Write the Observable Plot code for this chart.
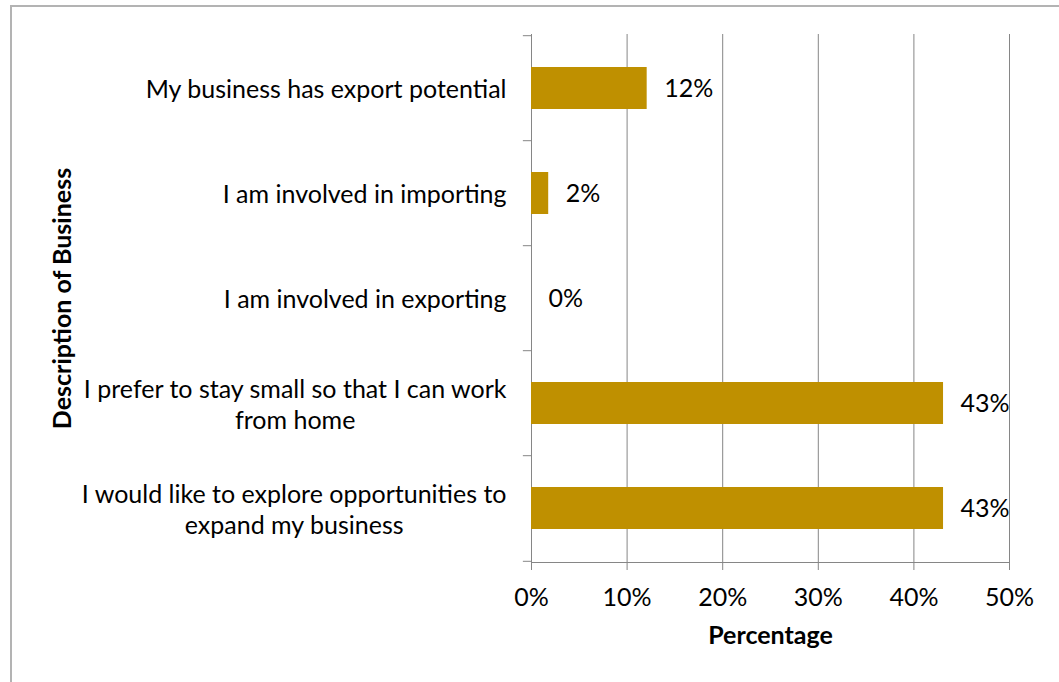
<!DOCTYPE html>
<html><head><meta charset="utf-8">
<script src="https://cdn.jsdelivr.net/npm/d3@7"></script>
<script src="https://cdn.jsdelivr.net/npm/@observablehq/plot@0.6"></script>
<style>
html,body{margin:0;padding:0;background:#fff;overflow:hidden;}
#chart{position:relative;width:1059px;height:682px;overflow:hidden;}
#chart .bt{position:absolute;left:10px;top:5px;width:1049px;height:2px;background:#b3b3b3;}
#chart .bl{position:absolute;left:10px;top:5px;width:2px;height:677px;background:#b3b3b3;}
#chart svg{position:absolute;left:0;top:0;}
</style>
</head><body><div id="chart"><div class="bt"></div><div class="bl"></div></div>
<script>
const categories = [
  "My business has export potential",
  "I am involved in importing",
  "I am involved in exporting",
  "I prefer to stay small so that I can work from home",
  "I would like to explore opportunities to expand my business"
];
const categoryLines = [
  ["My business has export potential"],
  ["I am involved in importing"],
  ["I am involved in exporting"],
  ["I prefer to stay small so that I can work", "from home"],
  ["I would like to explore opportunities to", "expand my business"]
];
const values = [12.1, 1.8, 0, 43.1, 43.1];
const valueLabels = ["12%", "2%", "0%", "43%", "43%"];
const xTicks = [0, 10, 20, 30, 40, 50];
const xTitle = "Percentage";
const yTitle = "Description of Business";

const data = categories.map((c, i) => ({category: c, value: values[i], label: valueLabels[i]}));
const FONT = "Lato, 'Open Sans', sans-serif";
const GRID = "#868686";
const STEP_HALF = 52.8;

const plot = Plot.plot({
  width: 1059, height: 682,
  marginLeft: 531, marginRight: 50, marginTop: 34, marginBottom: 120,
  style: {fontFamily: FONT, fontSize: "25px", color: "#000", background: "transparent", overflow: "hidden"},
  x: {domain: [0, 50]},
  y: {domain: categories, paddingInner: 0.6, paddingOuter: 0.3, label: null},
  marks: [
    Plot.ruleX(xTicks, {stroke: GRID, strokeWidth: 1}),
    Plot.frame({anchor: "bottom", stroke: GRID}),
    Plot.ruleY(categories, {y: d => d, x1: -0.85, x2: 0, dy: -STEP_HALF, stroke: GRID}),
    Plot.ruleY([categories[categories.length - 1]], {y: d => d, x1: -0.85, x2: 0, dy: STEP_HALF, stroke: GRID}),
    Plot.barX(data, {y: "category", x: "value", fill: "#BF9000"}),
    Plot.text(data, {y: "category", x: "value", text: "label", textAnchor: "start", dx: 17, fill: "#000"}),
    Plot.axisX({ticks: xTicks, tickSize: 8, tickPadding: 18, tickFormat: d => d + "%", stroke: GRID, label: null}),
    Plot.axisY({tickSize: 0, tickPadding: 25, label: null, lineHeight: 1.24,
      tickFormat: d => categoryLines[categories.indexOf(d)].join("\n")}),
    Plot.text([xTitle], {frameAnchor: "bottom", dy: 81, fontWeight: "bold", fill: "#000"}),
    Plot.text([yTitle], {frameAnchor: "left", dx: -469, rotate: -90, textAnchor: "middle", fontWeight: "bold", fill: "#000"})
  ]
});
document.getElementById("chart").appendChild(plot);

// Excel-style wrapped labels: block right-aligned, lines centred within the block
d3.select(plot).selectAll("g[aria-label='y-axis tick label'] text").each(function() {
  const tspans = this.querySelectorAll("tspan");
  if (tspans.length < 2) return;
  let maxW = 0;
  tspans.forEach(t => { maxW = Math.max(maxW, t.getComputedTextLength()); });
  this.setAttribute("text-anchor", "middle");
  const tr = this.getAttribute("transform") || "";
  this.setAttribute("transform", tr + ` translate(${-maxW / 2},0)`);
});
</script>
</body></html>
